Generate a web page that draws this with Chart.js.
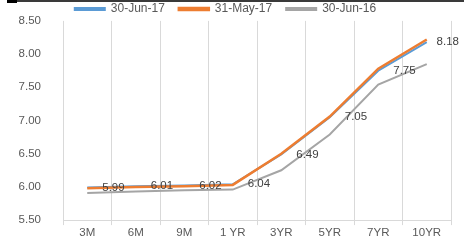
<!DOCTYPE html>
<html>
<head>
<meta charset="utf-8">
<script src="https://cdn.jsdelivr.net/npm/chart.js@4/dist/chart.umd.min.js"></script>
<style>
  html, body { margin: 0; padding: 0; background: #fff; }
  #wrap { position: relative; width: 464px; height: 241px; }
  #topbar { position: absolute; left: 7px; top: 0; width: 457px; height: 2px; background: #3a3a3a; }
  #topbar:before { content: ""; position: absolute; left: 0; top: 0; width: 10px; height: 3px; background: #000; }
</style>
</head>
<body>
<div id="wrap">
  <canvas id="graph" width="464" height="241"></canvas>
  <div id="topbar"></div>
</div>
<script>
// tenors on the x axis
const tenors = ['3M', '6M', '9M', '1 YR', '3YR', '5YR', '7YR', '10YR'];

// yields (%)
const jun17 = [5.99, 6.01, 6.02, 6.04, 6.49, 7.05, 7.75, 8.18];
const may17 = [5.98, 6.00, 6.01, 6.03, 6.50, 7.06, 7.78, 8.22];
const jun16 = [5.91, 5.93, 5.95, 5.96, 6.25, 6.79, 7.54, 7.85];

const yTicks = [5.5, 6.0, 6.5, 7.0, 7.5, 8.0, 8.5];

const greyText = '#595959';
const gridCol = '#d9d9d9';
const fontFam = '"Liberation Sans", Arial, sans-serif';

// value labels next to the 30-Jun-17 points
const valueLabels = {
  id: 'valueLabels',
  afterDatasetsDraw(chart) {
    const ctx = chart.ctx;
    const meta = chart.getDatasetMeta(0);
    ctx.save();
    ctx.font = '11.5px ' + fontFam;
    ctx.fillStyle = '#404040';
    ctx.textAlign = 'left';
    ctx.textBaseline = 'middle';
    meta.data.forEach(function (pt, i) {
      const txt = jun17[i].toFixed(2);
      let x = pt.x + 15;
      const w = ctx.measureText(txt).width;
      if (x + w > chart.width - 5) x = chart.width - 5 - w;
      ctx.fillText(txt, x, pt.y);
    });
    ctx.restore();
  }
};

// fix legend height so the plot starts where the reference does
const legendHeight = {
  id: 'legendHeight',
  beforeInit(chart) {
    const fit = chart.legend.fit;
    chart.legend.fit = function () {
      fit.bind(chart.legend)();
      this.height = 32;
    };
  }
};

const data = {
  labels: tenors,
  datasets: [
    {
      label: '30-Jun-17',
      data: jun17,
      borderColor: '#5b9bd5',
      backgroundColor: '#5b9bd5',
      borderWidth: 2,
      order: 2
    },
    {
      label: '31-May-17',
      data: may17,
      borderColor: '#ed7d31',
      backgroundColor: '#ed7d31',
      borderWidth: 2.5,
      order: 1
    },
    {
      label: '30-Jun-16',
      data: jun16,
      borderColor: '#a5a5a5',
      backgroundColor: '#a5a5a5',
      borderWidth: 2,
      order: 3
    }
  ]
};

const config = {
  type: 'line',
  data,
  options: {
    responsive: false,
    animation: false,
    layout: { padding: { left: 0, right: 13, top: -15, bottom: 0 } },
    elements: { point: { radius: 0 }, line: { tension: 0 } },
    plugins: {
      tooltip: { enabled: false },
      legend: {
        position: 'top',
        labels: {
          boxWidth: 30,
          boxHeight: 2,
          padding: 14,
          color: greyText,
          font: { family: fontFam, size: 12 },
          sort: (a, b) => a.datasetIndex - b.datasetIndex
        }
      }
    },
    scales: {
      x: {
        offset: true,
        grid: { display: true, color: gridCol, offset: true, tickLength: 5 },
        border: { display: true, color: gridCol },
        ticks: {
          color: greyText,
          padding: 1,
          maxRotation: 0,
          font: { family: fontFam, size: 11.5 }
        },
        afterFit(scale) { scale.height = 18; }
      },
      y: {
        min: 5.5,
        max: 8.5,
        grid: { display: false },
        border: { display: false },
        afterBuildTicks(scale) { scale.ticks = yTicks.map(v => ({ value: v })); },
        ticks: {
          color: greyText,
          padding: 14,
          font: { family: fontFam, size: 11.5 },
          callback: v => Number(v).toFixed(2)
        },
        afterFit(scale) { scale.width = 63; }
      }
    }
  },
  plugins: [valueLabels, legendHeight]
};

const yieldChart = new Chart(document.getElementById('graph'), config);
</script>
</body>
</html>
